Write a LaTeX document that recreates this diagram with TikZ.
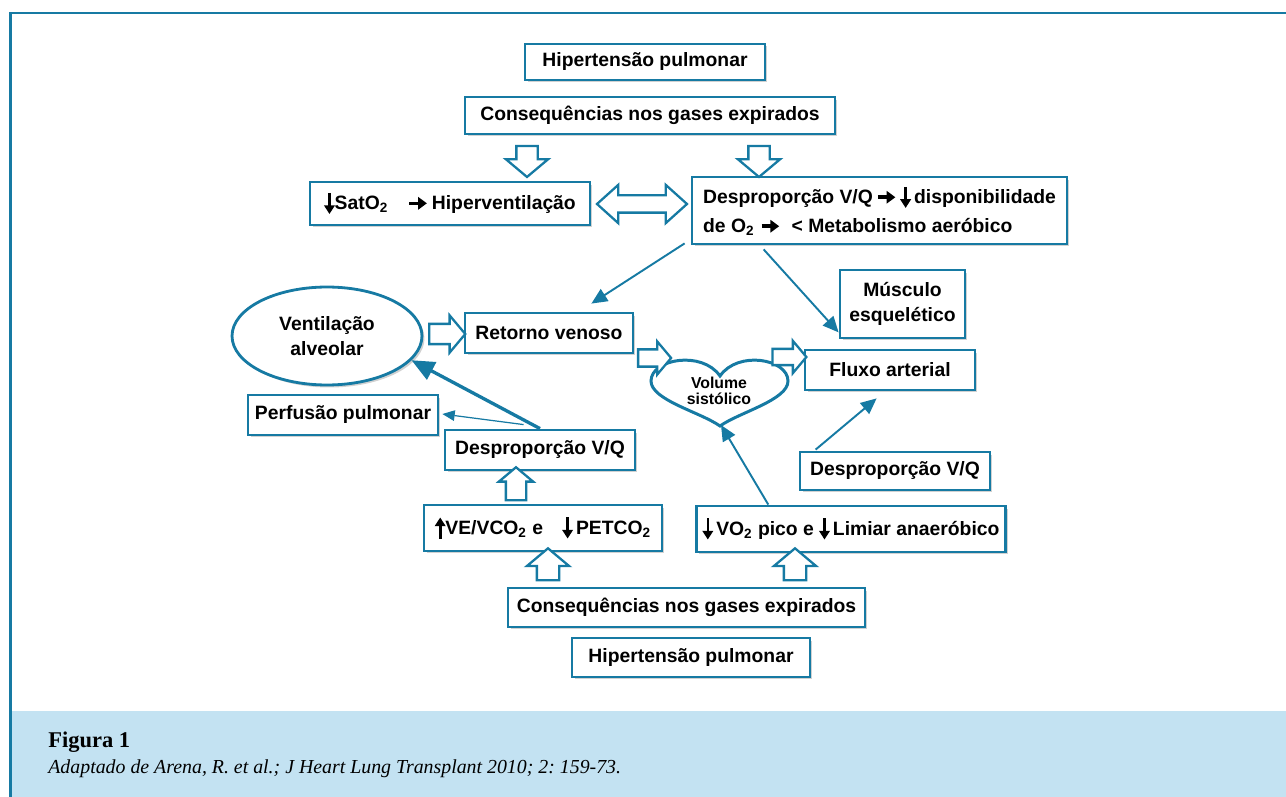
\documentclass[tikz,border=0pt]{standalone}
\usepackage{fontspec}
\setmainfont{Liberation Serif}
\newfontfamily\boxfont{Liberation Sans}
\usetikzlibrary{arrows.meta,shapes.geometric,shapes.arrows,shadows,calc}
\definecolor{flow}{RGB}{22,122,163}
\definecolor{capblue}{RGB}{195,226,242}
\frenchspacing
% small black arrows inside the box texts
\newcommand{\arrdn}{\tikz[baseline=0pt]\draw[line width=1.5pt,-{Triangle[length=5pt,width=6pt]}] (0pt,9.5pt) -- (0pt,-2.5pt);}
\newcommand{\arrup}{\tikz[baseline=0pt]\draw[line width=1.5pt,-{Triangle[length=5pt,width=6pt]}] (0pt,-2.5pt) -- (0pt,9.5pt);}
\newcommand{\arrrt}{\tikz[baseline=0pt]\draw[line width=2pt,-{Triangle[length=5pt,width=7pt]}] (0pt,3.6pt) -- (10pt,3.6pt);}

\begin{document}
\begin{tikzpicture}[x=0.02cm, y=-0.02cm,
  box/.style={draw=flow, line width=1.6pt, fill=white, align=center, font=\boxfont\bfseries\fontsize{11}{14.5}\selectfont, drop shadow={shadow xshift=0.05cm, shadow yshift=-0.05cm, fill=black, opacity=0.18}},
  hollow/.style={single arrow, draw=flow, fill=white, line width=1.3pt, inner xsep=0pt, single arrow head indent=0pt, single arrow tip angle=100},
  link/.style={draw=flow, line width=1.1pt, -{Triangle[length=9pt, width=8pt]}}]
\useasboundingbox (0,0) rectangle (1286,797);
% frame and caption band
\fill[capblue] (10,711) rectangle (1286,797);
\draw[flow, line width=1.7pt] (10.5,797) -- (10.5,13) -- (1286,13);

% upper chain
\node (hipTop) [box, minimum width=4.8cm, minimum height=0.72cm] at (645,62) {Hipertensão pulmonar};
\node (consTop) [box, minimum width=7.4cm, minimum height=0.74cm] at (650,115.5) {Consequências nos gases expirados};
\node (sat) [box, minimum width=5.6cm, minimum height=0.86cm] at (450,203.5) {\arrdn SatO\textsubscript{2}\quad\arrrt\,Hiperventilação};
\node (despTop) [box, align=left, minimum width=7.5cm, minimum height=1.34cm, font=\boxfont\bfseries\fontsize{11}{16.5}\selectfont] at (879.5,210.5) {Desproporção V/Q\,\arrrt\,\arrdn\,disponibilidade\\de O\textsubscript{2} \arrrt\ \ < Metabolismo aeróbico};
\node (musc) [box, minimum width=2.5cm, minimum height=1.36cm] at (902.5,304) {Músculo\\esquelético};

% middle row
\node (vent) [box, ellipse, minimum width=3.8cm, minimum height=1.96cm, drop shadow={opacity=0}] at (327,336) {Ventilação\\alveolar};
\node (ret) [box, minimum width=3.36cm, minimum height=0.8cm] at (549,333) {Retorno venoso};
\node (fluxo) [box, minimum width=3.4cm, minimum height=0.8cm] at (890,370) {Fluxo arterial};
\node (perf) [box, minimum width=3.8cm, minimum height=0.8cm] at (343,415) {Perfusão pulmonar};
\node (despL) [box, minimum width=3.8cm, minimum height=0.8cm] at (540,450) {Desproporção V/Q};
\node (despR) [box, minimum width=3.8cm, minimum height=0.76cm] at (895,471) {Desproporção V/Q};

% heart
\draw[flow, line width=1.7pt, fill=white] (720,426) .. controls (700,412) and (651,400) .. (651,381) .. controls (651,359) and (702,350) .. (720,376) .. controls (738,350) and (788,359) .. (788,381) .. controls (788,400) and (740,412) .. (720,426) -- cycle;
\coordinate (heartTip) at (721,425);
\node (heart) [font=\boxfont\bfseries\fontsize{9}{9.5}\selectfont, align=center, inner sep=0pt] at (719,391) {Volume\\sistólico};

% lower chain
\node (ve) [box, minimum width=4.76cm, minimum height=0.92cm] at (543,528) {\arrup VE/VCO\textsubscript{2} e\quad\arrdn\,PETCO\textsubscript{2}};
\node (vo) [box, minimum width=6.16cm, minimum height=0.92cm] at (851,529) {\arrdn\,VO\textsubscript{2} pico e \arrdn\,Limiar anaeróbico};
\node (consBot) [box, minimum width=7.14cm, minimum height=0.78cm] at (686.5,607.5) {Consequências nos gases expirados};
\node (hipBot) [box, minimum width=4.76cm, minimum height=0.78cm] at (691,657.5) {Hipertensão pulmonar};

% hollow arrows
\node (dn1) [hollow, inner ysep=0.19cm, single arrow head extend=0.21cm, minimum height=0.62cm, rotate=-90] at (527,157) {};
\node (dn2) [hollow, inner ysep=0.19cm, single arrow head extend=0.21cm, minimum height=0.62cm, rotate=-90] at (759,157) {};
\node (both) [double arrow, draw=flow, fill=white, line width=1.3pt, inner xsep=0pt, inner ysep=0.15cm, double arrow head extend=0.21cm, double arrow tip angle=84, minimum height=1.8cm] at (642,204) {};
\node (toRet) [hollow, inner ysep=0.18cm, single arrow head extend=0.17cm, minimum height=0.72cm] at (443,334) {};
\node (toHeart) [hollow, inner ysep=0.15cm, single arrow head extend=0.16cm, minimum height=0.66cm] at (651,358) {};
\node (toFluxo) [hollow, inner ysep=0.14cm, single arrow head extend=0.16cm, minimum height=0.68cm] at (786,357) {};
\node (upMid) [hollow, inner ysep=0.18cm, single arrow head extend=0.14cm, minimum height=0.66cm, rotate=90] at (516,488) {};
\node (up1) [hollow, inner ysep=0.2cm, single arrow head extend=0.2cm, minimum height=0.64cm, rotate=90] at (548,569) {};
\node (up2) [hollow, inner ysep=0.2cm, single arrow head extend=0.2cm, minimum height=0.64cm, rotate=90] at (795,569) {};

% connectors
\draw[link] ($(despTop.south west)+(-6,-2)$) -- ($(ret.north east)+(-43,-8)$);
\draw[link] ($(despTop.south west)+(73,4)$) -- ($(musc.south west)+(0,-7)$);
\draw[link] ($(despR.north west)+(17,-1)$) -- ($(fluxo.south west)+(73,7)$);
\draw[draw=flow, line width=0.7pt, -{Triangle[length=7pt, width=6pt]}] ($(despL.north west)+(80,-4)$) -- ($(perf.east)+(3,-1)$);
\draw[draw=flow, line width=1.9pt, -{Triangle[length=13pt, width=11pt]}] (despL.north) -- (vent.-16);
\draw[link] ($(vo.north west)+(73,0)$) -- (heartTip);

% caption
\node (fig) [anchor=west, inner sep=0pt, font=\bfseries\fontsize{12.8}{14}\selectfont] at (48,742) {Figura 1};
\node (src) [anchor=west, inner sep=0pt, font=\itshape\fontsize{11.3}{13}\selectfont] at (48,769) {Adaptado de Arena, R. et al.; J Heart Lung Transplant 2010; 2: 159-73.};
\end{tikzpicture}
\end{document}
